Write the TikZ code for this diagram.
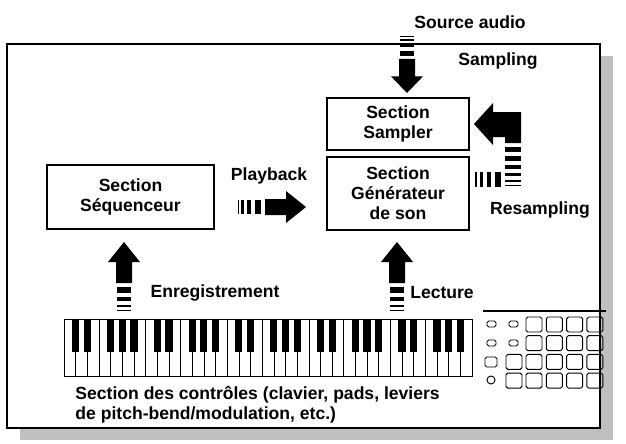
\documentclass[tikz,border=0pt]{standalone}
\usepackage{fontspec}
\setmainfont{Liberation Sans}
\usetikzlibrary{positioning}
\tikzset{
  box/.style={draw,line width=1.4pt,align=center,font=\bfseries\fontsize{15}{17}\selectfont,inner sep=0pt},
  lbl/.style={font=\bfseries\fontsize{15}{17}\selectfont,inner sep=1pt},
  pad/.style={draw,rounded corners=1.5pt,line width=0.8pt},
}
% up-pointing striped arrow, drawn in local pixels (tip at origin)
\newcommand\bigarrow[3][]{%
  \begin{scope}[shift={#2},rotate=#3,#1]
    \fill (0,0) -- (16,20) -- (8,20) -- (8,41) -- (-8,41) -- (-8,20) -- (-16,20) -- cycle;
    \fill (-7,45) rectangle (7,51);
    \fill (-7,55) rectangle (7,59);
    \fill (-7,62.5) rectangle (7,65);
    \fill (-7,67.5) rectangle (7,68.5);
  \end{scope}}
\begin{document}
\begin{tikzpicture}[x=0.03cm,y=-0.03cm,line join=miter]
\useasboundingbox (0,0) rectangle (626,443);
% frame with shadow
\fill[black!25] (20,56) rectangle (613,440);
\fill[white] (7,44) rectangle (600,428);
\draw[line width=1.2pt] (7,44) rectangle (600,428);
% sections
\node[box,minimum width=5.01cm,minimum height=1.92cm] (seq) at (130.5,197) {Section\\Séquenceur};
\node[box,minimum width=4.26cm,minimum height=1.56cm] (smp) at (398,124) {Section\\Sampler};
\node[box,minimum width=4.26cm,minimum height=2.19cm] (gen) at (398,193.5) {Section\\Générateur\\de son};
% arrows
\bigarrow[yscale=0.83]{(407,93)}{180}
\bigarrow{(306,207)}{-90}
\bigarrow{(124,242)}{0}
\bigarrow{(397,242)}{0}
% resampling arrow
\fill (474,124) -- (493,103) -- (493,112) -- (521,112) -- (521,143) -- (505,143)
  -- (505,137) -- (493,137) -- (493,145) -- cycle;
\fill (505,147) rectangle (521,152);
\fill (505,156) rectangle (521,161);
\fill (505,165) rectangle (521,169);
\fill (505,173) rectangle (521,176);
\fill (505,180) rectangle (521,182);
\fill (505,185) rectangle (521,186);
\fill (495,172) rectangle (501,187);
\fill (487,172) rectangle (491,187);
\fill (480,172) rectangle (483,187);
\fill (475,172) rectangle (476.5,187);
% labels
\node[lbl] (src) at (470,22) {Source audio};
\node[lbl] (samp) at (498,61) {Sampling};
\node[lbl] (play) at (269,176) {Playback};
\node[lbl] (resamp) at (540,210) {Resampling};
\node[lbl] (rec) at (215,293) {Enregistrement};
\node[lbl] (lect) at (442,293) {Lecture};
% keyboard
\draw[line width=0.8pt] (64,319) rectangle (472,376);
\foreach \i in {1,...,34} \draw[line width=0.5pt] ({64+\i*408/35},319) -- ({64+\i*408/35},376);
\foreach \o in {0,...,4} {
  \foreach \b in {1,2,4,5,6} {
    \fill ({64+(\o*7+\b)*408/35-3.6},319) rectangle ({64+(\o*7+\b)*408/35+3.6},352);
  }
}
% pads
\draw[line width=1.8pt] (483,311) -- (606,311);
\foreach \r in {0,...,3} {
  \foreach \c in {0,...,3} {
    \draw[pad] ({526+\c*20.3},{317+\r*18.7}) rectangle ++(16,15);
  }
}
\foreach \r in {2,3} \draw[pad] (506,{317+\r*18.7}) rectangle ++(16,15);
\foreach \r in {0,1} {
  \draw[pad] (487,{321+\r*19}) rectangle ++(9,6);
  \draw[pad] (509,{321+\r*19}) rectangle ++(9,6);
}
\draw[pad] (485,357) rectangle ++(12,10);
\draw[line width=0.8pt] (491,380) circle (4);
\node[lbl,anchor=north west,align=left] (ctl) at (74,385)
  {Section des contrôles (clavier, pads, leviers\\de pitch-bend/modulation, etc.)};
\end{tikzpicture}
\end{document}
